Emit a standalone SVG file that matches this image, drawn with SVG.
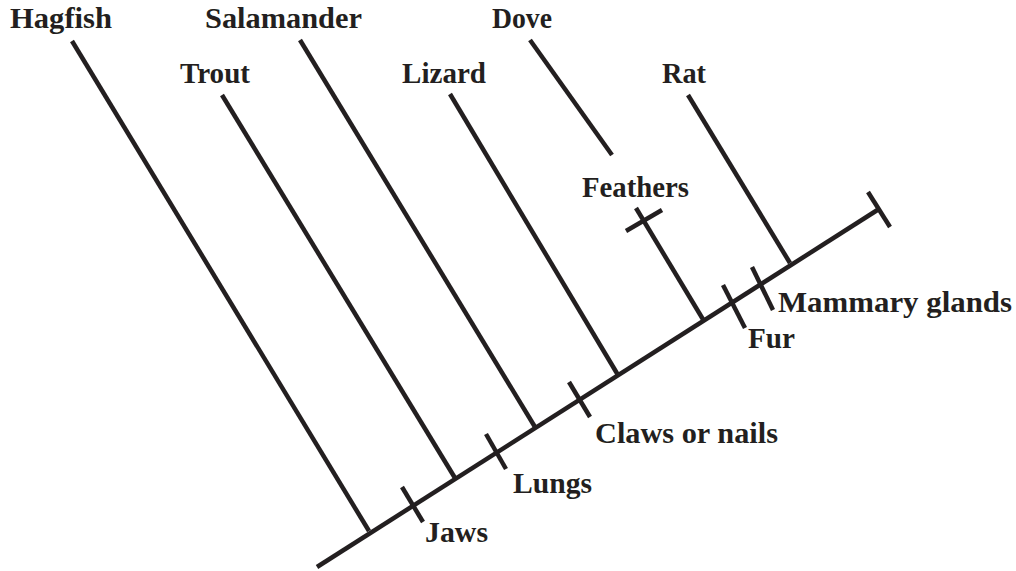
<svg xmlns="http://www.w3.org/2000/svg" width="1016" height="571" viewBox="0 0 1016 571">
<style>
.l{stroke:#231f20;stroke-width:4.5;fill:none;stroke-linecap:butt}
text{font-family:"Liberation Serif","Times New Roman",serif;font-weight:bold;font-size:30px;fill:#231f20}
</style>
<rect width="1016" height="571" fill="#fff"/>
<g id="connectors">
<line class="l" x1="317" y1="567" x2="879" y2="209"/>
<line class="l" x1="868" y1="192" x2="890" y2="227"/>
<line class="l" x1="72" y1="41" x2="369" y2="531"/>
<line class="l" x1="222" y1="95" x2="455" y2="478"/>
<line class="l" x1="300" y1="40" x2="535" y2="427"/>
<line class="l" x1="450" y1="94" x2="618" y2="375"/>
<line class="l" x1="530" y1="40" x2="612" y2="155"/>
<line class="l" x1="636" y1="208" x2="704" y2="321"/>
<line class="l" x1="688" y1="95" x2="790" y2="263"/>
<line class="l" x1="626" y1="231" x2="662" y2="210"/>
<line class="l" x1="402" y1="487" x2="423" y2="522"/>
<line class="l" x1="486" y1="434" x2="506" y2="469"/>
<line class="l" x1="569" y1="382" x2="590" y2="417"/>
<line class="l" x1="723" y1="285" x2="745" y2="328"/>
<line class="l" x1="752" y1="267" x2="773" y2="310"/>
</g>
<g id="taxa">
<text x="10" y="28" textLength="102" lengthAdjust="spacingAndGlyphs">Hagfish</text>
<text x="180" y="83" textLength="70" lengthAdjust="spacingAndGlyphs">Trout</text>
<text x="205" y="28" textLength="157" lengthAdjust="spacingAndGlyphs">Salamander</text>
<text x="402" y="83" textLength="84" lengthAdjust="spacingAndGlyphs">Lizard</text>
<text x="492" y="28" textLength="60" lengthAdjust="spacingAndGlyphs">Dove</text>
<text x="662" y="83" textLength="44" lengthAdjust="spacingAndGlyphs">Rat</text>
</g>
<g id="traits">
<text x="582" y="197" textLength="107" lengthAdjust="spacingAndGlyphs">Feathers</text>
<text x="778" y="312" textLength="234" lengthAdjust="spacingAndGlyphs">Mammary glands</text>
<text x="748" y="348" textLength="47" lengthAdjust="spacingAndGlyphs">Fur</text>
<text x="595" y="443" textLength="183" lengthAdjust="spacingAndGlyphs">Claws or nails</text>
<text x="513" y="493" textLength="79" lengthAdjust="spacingAndGlyphs">Lungs</text>
<text x="425" y="542" textLength="63" lengthAdjust="spacingAndGlyphs">Jaws</text>
</g>
</svg>
